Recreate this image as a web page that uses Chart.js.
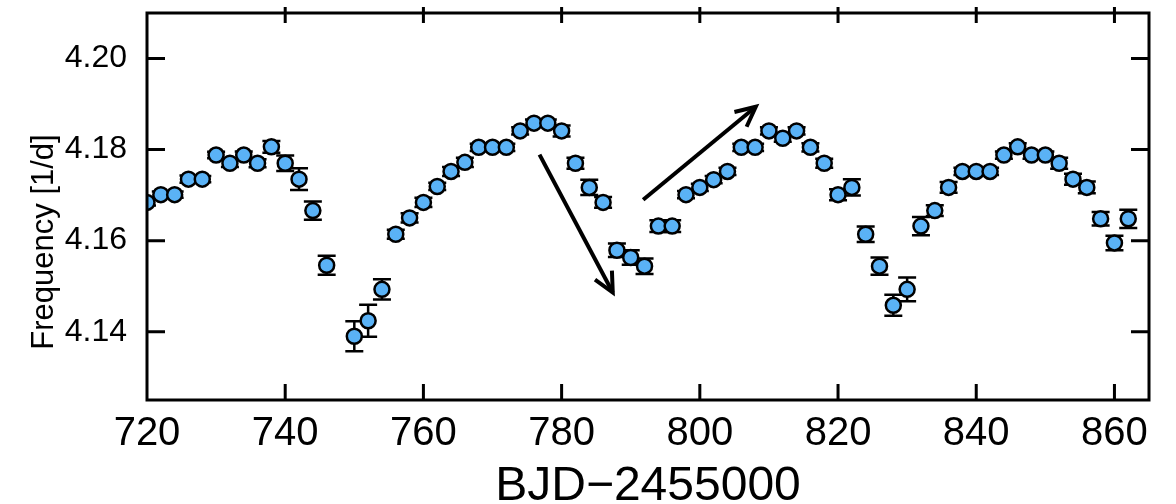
<!DOCTYPE html>
<html>
<head>
<meta charset="utf-8">
<script src="https://cdn.jsdelivr.net/npm/chart.js@4/dist/chart.umd.min.js"></script>
<style>
  body { margin: 0; background: #fff; }
</style>
</head>
<body>
<canvas id="freqChart" width="1176" height="504"></canvas>
<script>
// days (BJD-2455000), frequency [1/d] and error per point
const days = [720, 722, 724, 726, 728, 730, 732, 734, 736, 738, 740, 742, 744, 746,
  750, 752, 754, 756, 758, 760, 762, 764, 766, 768, 770, 772, 774, 776, 778, 780,
  782, 784, 786, 788, 790, 792, 794, 796, 798, 800, 802, 804, 806, 808, 810, 812,
  814, 816, 818, 820, 822, 824, 826, 828, 830, 832, 834, 836, 838, 840, 842, 844,
  846, 848, 850, 852, 854, 856, 858, 860, 862];
const freqs = [4.1684, 4.1701, 4.1701, 4.1735, 4.1735, 4.1788, 4.1770, 4.1788, 4.1770, 4.1806, 4.1770, 4.1735, 4.1666, 4.1546,
  4.1390, 4.1424, 4.1493, 4.1614, 4.1650, 4.1684, 4.1719, 4.1752, 4.1772, 4.1805, 4.1805, 4.1805, 4.1841, 4.1858, 4.1858, 4.1841,
  4.1770, 4.1717, 4.1684, 4.1579, 4.1563, 4.1544, 4.1632, 4.1632, 4.1701, 4.1717, 4.1734, 4.1752, 4.1805, 4.1805, 4.1841, 4.1825,
  4.1841, 4.1805, 4.1770, 4.1701, 4.1717, 4.1614, 4.1544, 4.1458, 4.1493, 4.1632, 4.1666, 4.1717, 4.1752, 4.1752, 4.1752, 4.1788,
  4.1806, 4.1788, 4.1788, 4.1770, 4.1735, 4.1717, 4.1648, 4.1595, 4.1648];
const errs = [0.0007, 0.0007, 0.0007, 0.0008, 0.0007, 0.0007, 0.0008, 0.0008, 0.0009, 0.0013, 0.0017, 0.0024, 0.0020, 0.0021,
  0.0033, 0.0035, 0.0022, 0.0010, 0.0010, 0.0010, 0.0008, 0.0010, 0.0010, 0.0008, 0.0008, 0.0008, 0.0008, 0.0008, 0.0008, 0.0012,
  0.0012, 0.0017, 0.0012, 0.0015, 0.0016, 0.0017, 0.0013, 0.0013, 0.0008, 0.0008, 0.0008, 0.0008, 0.0008, 0.0008, 0.0008, 0.0008,
  0.0008, 0.0009, 0.0010, 0.0012, 0.0018, 0.0017, 0.0019, 0.0023, 0.0026, 0.0020, 0.0012, 0.0012, 0.0008, 0.0008, 0.0008, 0.0008,
  0.0008, 0.0008, 0.0008, 0.0012, 0.0012, 0.0013, 0.0015, 0.0016, 0.0020];

const xTicks = [720, 740, 760, 780, 800, 820, 840, 860];
const yTicks = [4.14, 4.16, 4.18, 4.20];

// arrows: [fromX, fromY, toX, toY] in data units
const arrows = [
  [776.8, 4.1789, 787.4, 4.1486],
  [791.8, 4.1690, 808.1, 4.1894]
];

const FONT = '"Liberation Sans", Arial, Helvetica, sans-serif';

const framePlugin = {
  id: 'frame',
  beforeDatasetsDraw(chart) {
    // error bars, under the points
    const { ctx, chartArea: a, scales: { x, y } } = chart;
    ctx.save();
    ctx.beginPath();
    ctx.rect(a.left, a.top, a.right - a.left, a.bottom - a.top);
    ctx.clip();
    ctx.strokeStyle = '#000';
    ctx.lineWidth = 2.5;
    days.forEach((d, i) => {
      const px = x.getPixelForValue(d);
      const y1 = y.getPixelForValue(freqs[i] + errs[i]);
      const y2 = y.getPixelForValue(freqs[i] - errs[i]);
      ctx.beginPath();
      ctx.moveTo(px, y1); ctx.lineTo(px, y2);
      ctx.moveTo(px - 9, y1); ctx.lineTo(px + 9, y1);
      ctx.moveTo(px - 9, y2); ctx.lineTo(px + 9, y2);
      ctx.stroke();
    });
    ctx.restore();
  },
  afterDraw(chart) {
    const { ctx, chartArea: a, scales: { x, y } } = chart;
    ctx.save();
    ctx.strokeStyle = '#000';
    ctx.lineWidth = 3;
    ctx.strokeRect(a.left, a.top, a.right - a.left, a.bottom - a.top);
    ctx.beginPath();
    xTicks.forEach(v => {
      if (v === 720) return;
      const px = x.getPixelForValue(v);
      ctx.moveTo(px, a.bottom); ctx.lineTo(px, a.bottom - 16);
      ctx.moveTo(px, a.top - 6); ctx.lineTo(px, a.top + 10);
    });
    yTicks.forEach(v => {
      const py = y.getPixelForValue(v);
      ctx.moveTo(a.left, py); ctx.lineTo(a.left + 18, py);
      ctx.moveTo(a.right, py); ctx.lineTo(a.right - 18, py);
    });
    ctx.stroke();

    // arrows
    ctx.lineWidth = 4;
    ctx.lineCap = 'butt';
    arrows.forEach(([x0, y0, x1, y1]) => {
      const sx = x.getPixelForValue(x0), sy = y.getPixelForValue(y0);
      const ex = x.getPixelForValue(x1), ey = y.getPixelForValue(y1);
      const ang = Math.atan2(ey - sy, ex - sx);
      ctx.beginPath();
      ctx.moveTo(sx, sy); ctx.lineTo(ex, ey);
      ctx.stroke();
      ctx.beginPath();
      ctx.moveTo(ex - 22 * Math.cos(ang - 0.45), ey - 22 * Math.sin(ang - 0.45));
      ctx.lineTo(ex, ey);
      ctx.lineTo(ex - 22 * Math.cos(ang + 0.45), ey - 22 * Math.sin(ang + 0.45));
      ctx.stroke();
    });

    // axis titles
    ctx.fillStyle = '#000';
    ctx.font = '48px ' + FONT;
    ctx.textAlign = 'center';
    ctx.textBaseline = 'alphabetic';
    ctx.fillText('BJD\u22122455000', (a.left + a.right) / 2, 500);
    ctx.translate(53, 242);
    ctx.rotate(-Math.PI / 2);
    ctx.font = '31px ' + FONT;
    ctx.fillText('Frequency [1/d]', 0, 0);
    ctx.restore();
  }
};

const ctx = document.getElementById('freqChart').getContext('2d');

const freqChart = new Chart(ctx, {
  type: 'scatter',
  data: {
    datasets: [{
      data: days.map((d, i) => ({ x: d, y: freqs[i] })),
      backgroundColor: '#5ab2f6',
      borderColor: '#000',
      pointRadius: 7.5,
      pointBorderWidth: 2.5,
      pointHoverRadius: 7.5,
      clip: 0
    }]
  },
  options: {
    responsive: false,
    animation: false,
    layout: { padding: { left: 0, top: 13, right: 27, bottom: 0 } },
    scales: {
      x: {
        type: 'linear',
        min: 720,
        max: 865,
        afterFit: s => { s.height = 104; s.paddingLeft = 0; s.paddingRight = 0; },
        afterBuildTicks: s => { s.ticks = xTicks.map(v => ({ value: v })); },
        grid: { display: false },
        border: { display: false },
        ticks: { color: '#000', font: { family: FONT, size: 40 }, padding: 2, maxRotation: 0 }
      },
      y: {
        min: 4.125,
        max: 4.21,
        afterFit: s => { s.width = 147; s.paddingTop = 0; s.paddingBottom = 0; },
        afterBuildTicks: s => { s.ticks = yTicks.map(v => ({ value: v })); },
        grid: { display: false },
        border: { display: false },
        ticks: {
          color: '#000',
          font: { family: FONT, size: 32 },
          padding: 12,
          callback: v => v.toFixed(2)
        }
      }
    },
    plugins: {
      legend: { display: false },
      tooltip: { enabled: false }
    }
  },
  plugins: [framePlugin]
});
</script>
</body>
</html>
